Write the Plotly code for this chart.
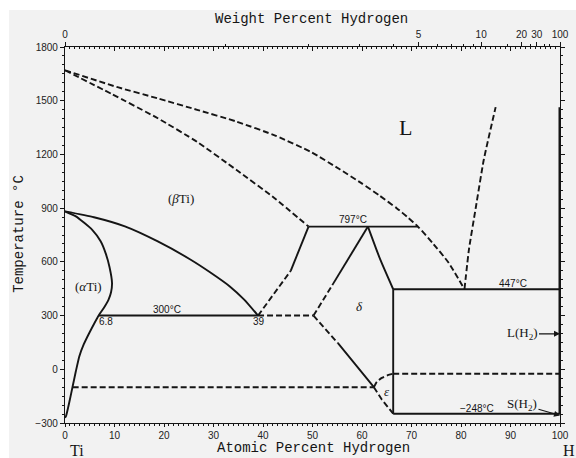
import plotly.graph_objects as go

# ---- Ti-H phase diagram data (atomic % H, temperature in °C) ----
alpha_x = [0, 2.2, 5.5, 7.2, 8.2, 9.0, 9.5, 9.3, 8.8, 7.9, 6.8, 5.8, 4.9, 3.8, 2.9, 2.2, 1.55, 0.9, 0.2, 0]
alpha_t = [882, 854, 779, 715, 649, 570, 482, 430, 389, 345, 300, 250, 203, 140, 73, -10, -95, -180, -262, -270]

beta_x = [0, 5.85, 12.1, 18.75, 25.4, 29.3, 33.3, 36.2, 39]
beta_t = [882, 849, 798, 714, 612, 542, 463, 389, 300]

solidus_x = [0, 9.4, 18.75, 26.7, 34.6, 42.6, 49.2]
solidus_t = [1670, 1538, 1402, 1270, 1114, 950, 797]

liquidus_x = [0, 10.8, 18.75, 26.7, 34.6, 42.6, 49.8, 55.5, 59.8, 63.6, 67, 69.35, 71.3, 74.3, 77.5, 80.7]
liquidus_t = [1670, 1574, 1513, 1449, 1384, 1304, 1212, 1117, 1041, 969, 900, 846, 797, 704, 595, 447]

gas_x = [80.7, 81.6, 83, 84.6, 87]
gas_t = [447, 668, 905, 1170, 1464]

# beta / (beta + delta) boundary
bd_dash_x = [39, 45.6]
bd_dash_t = [300, 550]
bd_solid_x = [45.6, 49.2]
bd_solid_t = [550, 797]

# delta phase boundaries
dl_dash_x = [50.2, 54]
dl_dash_t = [300, 470]
dl_solid_x = [54, 61.2]
dl_solid_t = [470, 797]
dr_x = [61.2, 63.7, 66.3]
dr_t = [797, 612, 447]
dlow_dash_x = [50.2, 55.1]
dlow_dash_t = [300, 147]
dlow_solid_x = [55.1, 58.4, 62.4]
dlow_solid_t = [147, 36, -100]

# epsilon phase boundaries
eps_up_x = [62.4, 63.0, 64.0, 65.2, 66.3]
eps_up_t = [-100, -70, -48, -33, -25]
eps_low_x = [62.4, 64.0, 66.3]
eps_low_t = [-100, -169, -248]

# invariant temperatures
t_eutectoid = 300
x_eutectoid = [6.8, 39]
x_eutectoid_dash = [39, 50.2]
t_peritectic = 797
x_peritectic = [49.2, 71.3]
t_eutectic = 447
x_eutectic = [66.3, 100]
t_eps = -25
x_eps = [66.3, 100]
t_h2 = -248
x_h2 = [66.3, 100]
t_lowdash = -100
x_lowdash = [1.55, 62.4]
x_tih2 = 66.3
t_tih2 = [447, -248]
t_gas_right = [1464, -248]

# axis ticks
temp_ticks = [-300, 0, 300, 600, 900, 1200, 1500, 1800]
at_ticks = [0, 10, 20, 30, 40, 50, 60, 70, 80, 90, 100]
wt_labels = [0, 5, 10, 20, 30, 100]
wt_minor = [1, 2, 3, 4, 6, 7, 8, 9, 15, 25, 40, 50]

M_H, M_TI = 1.008, 47.867


def wt_to_at(w):
    if w >= 100:
        return 100.0
    f = w / 100.0
    r = f * M_TI / (M_H * (1 - f))
    return 100.0 * r / (1 + r)


INK = "#151515"
DASH = "6px,3px"

fig = go.Figure()


def add(xs, ts, dashed=False, width=1.9, smooth=False):
    line = dict(color=INK, width=width, dash=DASH if dashed else "solid")
    if smooth:
        line.update(shape="spline", smoothing=0.5)
    fig.add_trace(go.Scatter(x=xs, y=ts, mode="lines", line=line,
                             hoverinfo="skip", showlegend=False))


add(alpha_x, alpha_t, smooth=True)
add(beta_x, beta_t, smooth=True)
add(solidus_x, solidus_t, dashed=True, smooth=True)
add(liquidus_x, liquidus_t, dashed=True, smooth=True)
add(gas_x, gas_t, dashed=True, smooth=True)
add(bd_dash_x, bd_dash_t, dashed=True)
add(bd_solid_x, bd_solid_t)
add(dl_dash_x, dl_dash_t, dashed=True)
add(dl_solid_x, dl_solid_t)
add(dr_x, dr_t, smooth=True)
add(dlow_dash_x, dlow_dash_t, dashed=True)
add(dlow_solid_x, dlow_solid_t, smooth=True)
add(eps_up_x, eps_up_t, dashed=True, smooth=True)
add(eps_low_x, eps_low_t, dashed=True)
add(x_eutectoid, [t_eutectoid] * 2)
add(x_eutectoid_dash, [t_eutectoid] * 2, dashed=True)
add(x_peritectic, [t_peritectic] * 2)
add(x_eutectic, [t_eutectic] * 2)
add(x_eps, [t_eps] * 2, dashed=True)
add(x_h2, [t_h2] * 2)
add(x_lowdash, [t_lowdash] * 2, dashed=True)
add([x_tih2] * 2, t_tih2)
add([100, 100], t_gas_right, width=3)

# weight-percent scale and the mirrored atomic-percent ticks along the top
fig.add_trace(go.Scatter(x=[0, 100], y=[None, None], xaxis="x2", showlegend=False,
                         hoverinfo="skip"))
fig.add_trace(go.Scatter(x=[0, 100], y=[None, None], xaxis="x3", showlegend=False,
                         hoverinfo="skip"))

TICKFONT = dict(family="Liberation Sans", size=10, color="#222")
SERIF = "Liberation Serif"
MONO = "Liberation Mono"

fig.update_layout(
    width=576, height=458,
    margin=dict(l=65, r=7, t=47, b=35),
    paper_bgcolor="#f2f2f2", plot_bgcolor="#f2f2f2",
    xaxis=dict(range=[0, 100], tickvals=at_ticks, ticks="outside", ticklen=3,
               tickwidth=1, tickcolor=INK, showgrid=False, zeroline=False,
               showline=True, linecolor=INK, linewidth=1.2, tickfont=TICKFONT,
               minor=dict(dtick=1, ticks="outside", ticklen=2, tickcolor=INK)),
    xaxis2=dict(range=[0, 100], overlaying="x", side="top",
                tickvals=[wt_to_at(w) for w in wt_labels],
                ticktext=[str(w) for w in wt_labels], ticks="outside", ticklen=4,
                tickcolor=INK, showgrid=False, zeroline=False, showline=True,
                linecolor=INK, linewidth=1.2, tickfont=TICKFONT,
                minor=dict(tickvals=[wt_to_at(w) for w in wt_minor], ticks="outside",
                           ticklen=2, tickcolor=INK)),
    xaxis3=dict(range=[0, 100], overlaying="x", side="top", showticklabels=False,
                tickvals=at_ticks, ticks="inside", ticklen=4, tickcolor=INK,
                showgrid=False, zeroline=False,
                minor=dict(dtick=1, ticks="inside", ticklen=2, tickcolor=INK)),
    yaxis=dict(range=[-300, 1800], tickvals=temp_ticks, ticks="outside", ticklen=4,
               tickcolor=INK, showgrid=False, zeroline=False, showline=True,
               linecolor=INK, linewidth=1.2, mirror="ticks", tickfont=TICKFONT,
               minor=dict(dtick=50, ticks="outside", ticklen=2, tickcolor=INK)),
    showlegend=False,
)

# white strip along the top and left edges of the page
fig.add_shape(type="rect", xref="paper", yref="paper", x0=-0.2, x1=1.1,
              y0=(423 - 10) / 376, y1=1.2, fillcolor="white", line_width=0, layer="below")
fig.add_shape(type="rect", xref="paper", yref="paper", x0=-0.2, x1=(8 - 65) / 504,
              y0=-0.2, y1=1.2, fillcolor="white", line_width=0, layer="below")


def px_x(p):
    return (p - 65) / 504


def px_y(p):
    return (423 - p) / 376


def note(text, x, y, size=12, family=SERIF, xref="x", yref="y", xanchor="center", **kw):
    fig.add_annotation(text=text, x=x, y=y, xref=xref, yref=yref, showarrow=False,
                       xanchor=xanchor, yanchor="middle",
                       font=dict(family=family, size=size, color=INK), **kw)


# axis titles
note("Weight Percent Hydrogen", px_x(316), px_y(19), size=14, family=MONO,
     xref="paper", yref="paper")
note("Atomic Percent Hydrogen", px_x(318), px_y(448), size=14, family=MONO,
     xref="paper", yref="paper")
note("Temperature °C", px_x(18), px_y(234), size=14, family=MONO,
     xref="paper", yref="paper", textangle=-90)
note("Ti", px_x(77), px_y(450), size=16, xref="paper", yref="paper")
note("H", px_x(570), px_y(450), size=16, xref="paper", yref="paper", xanchor="left")

# phase field labels
note("L", 68.7, 1350, size=22)
note("(<i>β</i>Ti)", 23.4, 956, size=13)
note("(<i>α</i>Ti)", 4.8, 463, size=13)
note("<i>δ</i>", 59.4, 352, size=13)
note("<i>ε</i>", 65.0, -123, size=13)

# invariant labels
SMALL = "Liberation Sans"
note("300°C", 20.7, 333, size=10, family=SMALL)
note("6.8", 8.2, 268, size=10, family=SMALL)
note("39", 39.2, 268, size=10, family=SMALL)
note("797°C", 58.1, 835, size=10, family=SMALL)
note("447°C", 90.5, 477, size=10, family=SMALL)
note("−248°C", 83.2, -220, size=10, family=SMALL)

# hydrogen phases at 100 %
fig.add_annotation(text="L(H<sub>2</sub>)", x=100, y=198, ax=-38, ay=0,
                   showarrow=True, arrowhead=2, arrowsize=1, arrowwidth=1.2,
                   arrowcolor=INK, font=dict(family=SERIF, size=13, color=INK))
fig.add_annotation(text="S(H<sub>2</sub>)", x=100, y=-258, ax=-38, ay=-11,
                   showarrow=True, arrowhead=2, arrowsize=1, arrowwidth=1.2,
                   arrowcolor=INK, font=dict(family=SERIF, size=13, color=INK))

fig.write_html("out.html")
